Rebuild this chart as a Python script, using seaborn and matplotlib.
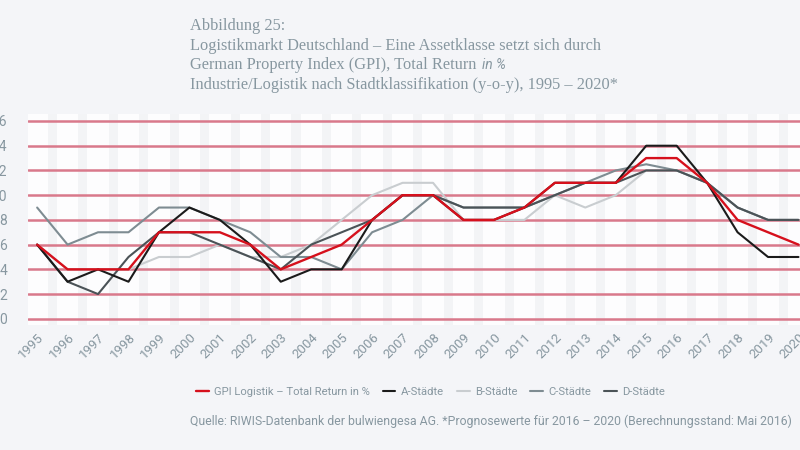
import numpy as np
import pandas as pd
import matplotlib.pyplot as plt
import seaborn as sns

# ---- Daten ----
years = list(range(1995, 2021))
gpi = [6, 4, 4, 4, 7, 7, 7, 6, 4, 5, 6, 8, 10, 10, 8, 8, 9, 11, 11, 11, 13, 13, 11, 8, 7, 6]
a_staedte = [6, 3, 4, 3, 7, 9, 8, 6, 3, 4, 4, 8, 10, 10, 8, 8, 9, 11, 11, 11, 14, 14, 11, 7, 5, 5]
b_staedte = [6, 4, 4, 4, 5, 5, 6, 5, 5, 6, 8, 10, 11, 11, 8, 8, 8, 10, 9, 10, 12, 12, 11, 9, 8, 8]
c_staedte = [9, 6, 7, 7, 9, 9, 8, 7, 5, 5, 4, 7, 8, 10, 9, 9, 9, 10, 11, 12, 12.5, 12, 11, 9, 8, 8]
d_staedte = [6, 3, 2, 5, 7, 7, 6, 5, 4, 6, 7, 8, 10, 10, 9, 9, 9, 10, 11, 11, 12, 12, 11, 9, 8, 8]
y_ticks = [0, 2, 4, 6, 8, 10, 12, 14, 16]

series_names = ['GPI Logistik – Total Return in %', 'A-Städte', 'B-Städte', 'C-Städte', 'D-Städte']
series_values = [gpi, a_staedte, b_staedte, c_staedte, d_staedte]

df = pd.DataFrame({'Jahr': np.tile(years, len(series_names)),
                   'Wert': np.concatenate(series_values),
                   'Serie': np.repeat(series_names, len(years))})

colors = {'GPI Logistik – Total Return in %': '#d6101c', 'A-Städte': '#1b1b1b',
          'B-Städte': '#c9cdd0', 'C-Städte': '#7e8c92', 'D-Städte': '#4b5357'}
draw_order = ['B-Städte', 'C-Städte', 'D-Städte', 'A-Städte', 'GPI Logistik – Total Return in %']

sns.set_style('white')
plt.rcParams['font.family'] = ['Roboto', 'DejaVu Sans']
grey_txt = '#8797a0'

fig = plt.figure(figsize=(8, 4.5), dpi=100, facecolor='#f4f5f8')
ax = fig.add_axes([0.035, 0.2778, 0.965, 0.4698])
ax.set_facecolor('#fdfdfe')

# leichte senkrechte Streifen zwischen den Jahren
for yr in years[:-1]:
    ax.axvspan(yr + 0.35, yr + 0.65, color='#f3f4f6', zorder=0, lw=0)

for ytk in y_ticks:
    ax.axhline(ytk, color='#d9798b', lw=1.8, zorder=1)

for i, name in enumerate(draw_order):
    sub = df[df['Serie'] == name]
    sns.lineplot(data=sub, x='Jahr', y='Wert', color=colors[name], label=name,
                 lw=1.7 if name.startswith('GPI') else 1.5, ax=ax, zorder=3 + i)

ax.set_xlim(1994.7, 2020.05)
ax.set_ylim(-0.5, 16.6)
ax.set_xticks(years)
ax.set_xticklabels([str(y) for y in years], rotation=45, ha='right',
                   rotation_mode='anchor', fontsize=9.5, color=grey_txt)
ax.set_yticks(y_ticks)
ax.set_yticklabels([str(v) for v in y_ticks], fontsize=10, color=grey_txt)
ax.tick_params(axis='y', length=0, pad=15)
ax.tick_params(axis='x', length=0, pad=4)
ax.set_xlabel('')
ax.set_ylabel('')
for s in ax.spines.values():
    s.set_visible(False)

handles, labels = ax.get_legend_handles_labels()
ax.get_legend().remove()
hmap = dict(zip(labels, handles))
fig.legend([hmap[n] for n in series_names], series_names, loc='center left',
           bbox_to_anchor=(0.232, 1 - 392 / 450), ncol=5, frameon=False,
           handlelength=1.15, handletextpad=0.5, columnspacing=1.1,
           fontsize=8.1, labelcolor=grey_txt)

# Titel
title_lines = ['Abbildung 25:',
               'Logistikmarkt Deutschland – Eine Assetklasse setzt sich durch',
               'German Property Index (GPI), Total Return',
               'Industrie/Logistik nach Stadtklassifikation (y-o-y), 1995 – 2020*']
for k, line in enumerate(title_lines):
    fig.text(190 / 800, 1 - (30 + 19.7 * k) / 450, line, family='Liberation Serif',
             fontsize=11.8, color=grey_txt, va='baseline')
fig.text(482 / 800, 1 - (30 + 19.7 * 2) / 450, 'in %', family='Roboto',
         style='italic', fontsize=10, color=grey_txt, va='baseline')

fig.text(190 / 800, 1 - 425 / 450,
         'Quelle: RIWIS-Datenbank der bulwiengesa AG. *Prognosewerte für 2016 – 2020 (Berechnungsstand: Mai 2016)',
         fontsize=8.8, color=grey_txt, va='baseline')

fig.savefig('out.png', dpi=100, facecolor=fig.get_facecolor())
